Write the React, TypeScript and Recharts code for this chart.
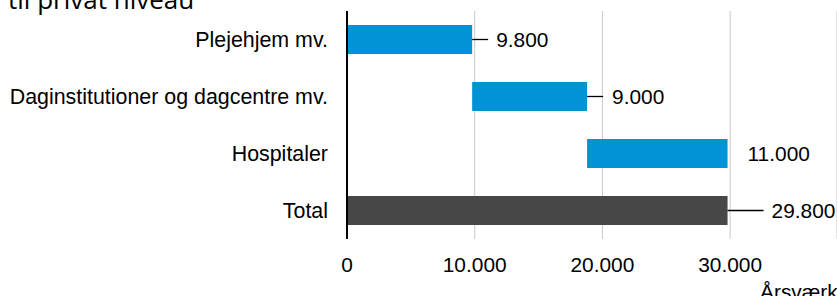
import React from 'react'
import { BarChart, Bar, XAxis, YAxis, CartesianGrid, Cell, LabelList } from 'recharts'

const categories = ['Plejehjem mv.', 'Daginstitutioner og dagcentre mv.', 'Hospitaler', 'Total']
const values = [9800, 9000, 11000, 29800]
const isTotal = [false, false, false, true]
const xTicks = [0, 10000, 20000, 30000]

// manual label placement (leader line length, text gap from bar end)
const LEADER = [16, 16, 0, 36]
const GAP = [24, 25, 20, 44]

const BLUE = '#0093d6'
const DARK = '#474747'
const FONT = 'Liberation Sans, Arial, sans-serif'

const fmt = (v: number) => v.toLocaleString('de-DE')

let running = 0
const data = categories.map((name, i) => {
  const base = isTotal[i] ? 0 : running
  if (!isTotal[i]) running += values[i]
  return { name, base, value: values[i] }
})

const renderLabel = (props: any) => {
  const { x, y, width, height, index } = props
  const end = Number(x) + Number(width)
  const cy = Number(y) + Number(height) / 2
  return (
    <g>
      {LEADER[index] > 0 && (
        <line x1={end} y1={cy} x2={end + LEADER[index]} y2={cy} stroke="#000" strokeWidth={1.3} />
      )}
      <text
        x={end + GAP[index]}
        y={cy}
        dy="0.36em"
        fill="#000"
        fontSize={20.9}
        fontFamily={FONT}
      >
        {fmt(values[index])}
      </text>
    </g>
  )
}

export default function App() {
  return (
    <div style={{ position: 'absolute', left: 0, top: 0, width: 837, height: 296, overflow: 'hidden', background: '#fff' }}>
      <BarChart
        width={837}
        height={296}
        data={data}
        layout="vertical"
        margin={{ top: 11, right: 0, bottom: 0, left: 0 }}
        barSize={29}
      >
        <CartesianGrid horizontal={false} stroke="#c8c8c8" strokeWidth={1} />
        <XAxis
          type="number"
          domain={[0, 38370]}
          ticks={xTicks}
          tickFormatter={fmt}
          axisLine={false}
          tickLine={false}
          tickSize={0}
          tickMargin={18}
          height={57}
          interval={0}
          tick={{ fill: '#000', fontSize: 20.9, fontFamily: FONT }}
        />
        <YAxis
          type="category"
          dataKey="name"
          width={347}
          axisLine={{ stroke: '#000', strokeWidth: 2 }}
          tickLine={false}
          tickSize={0}
          tickMargin={19}
          interval={0}
          tick={{ fill: '#000', fontSize: 21.4, fontFamily: FONT }}
        />
        <Bar dataKey="base" stackId="w" fill="transparent" isAnimationActive={false} />
        <Bar dataKey="value" stackId="w" isAnimationActive={false}>
          {data.map((d, i) => (
            <Cell key={d.name} fill={isTotal[i] ? DARK : BLUE} />
          ))}
          <LabelList dataKey="value" content={renderLabel} />
        </Bar>
      </BarChart>
      <svg width={837} height={296} style={{ position: 'absolute', left: 0, top: 0, pointerEvents: 'none' }}>
        <text x={8} y={9} fontSize={26} fontFamily="Open Sans, sans-serif" fill="#000">
          til privat niveau
        </text>
        <text x={760} y={299} fontSize={20.9} fontFamily={FONT} fill="#000">
          Årsværk
        </text>
      </svg>
    </div>
  )
}
